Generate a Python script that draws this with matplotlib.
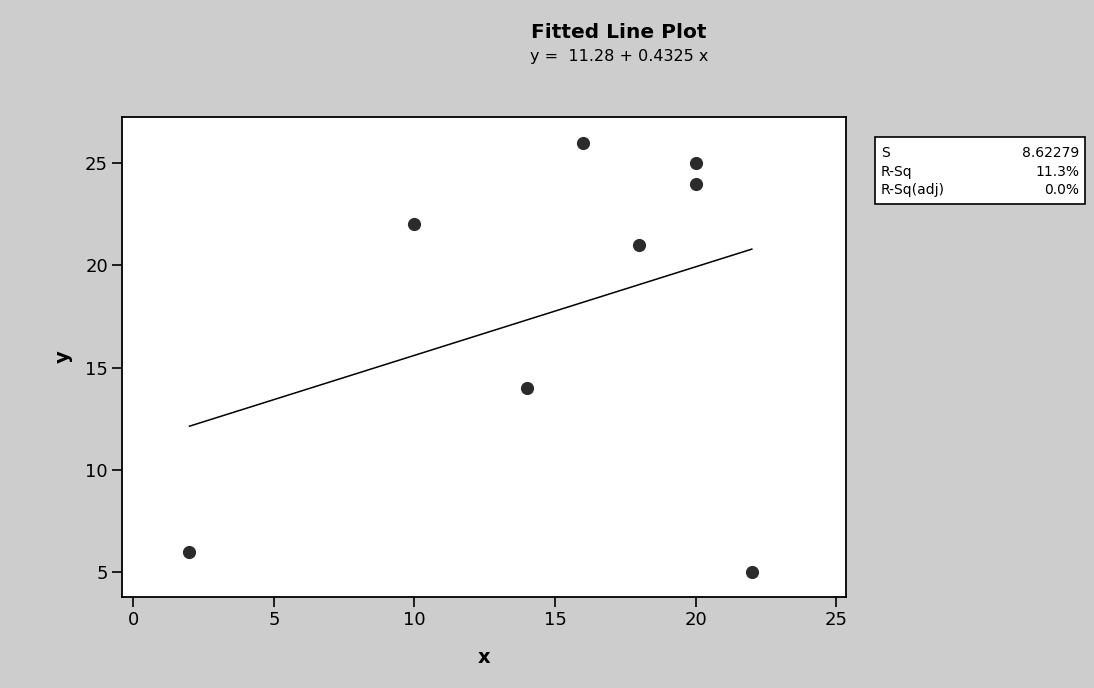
import matplotlib
matplotlib.use("Agg")
import matplotlib.pyplot as plt
import numpy as np

# Data
x_vals = [2, 10, 14, 16, 18, 20, 20, 22]
y_vals = [6, 22, 14, 26, 21, 25, 24, 5]
intercept = 11.28
slope = 0.4325
x_ticks = [0, 5, 10, 15, 20, 25]
y_ticks = [5, 10, 15, 20, 25]
stat_names = ["S", "R-Sq", "R-Sq(adj)"]
stat_values = ["8.62279", "11.3%", "0.0%"]

plt.rcParams['font.family'] = ['DejaVu Sans']

fig = plt.figure(figsize=(10.94, 6.88), dpi=100)
bg = '#cdcdcd'
fig.patch.set_facecolor(bg)

ax = fig.add_axes([122/1094, 1-597/688, (846-122)/1094, (597-117)/688])
ax.set_facecolor('white')

ax.scatter(x_vals, y_vals, s=90, color='#2b2b2b', zorder=3, linewidths=0)
xl = np.array([min(x_vals), max(x_vals)])
ax.plot(xl, intercept + slope * xl, color='black', lw=1.1, zorder=2)

ax.set_xlim(-0.4, 25.35)
ax.set_ylim(3.8, 27.25)
ax.set_xticks(x_ticks)
ax.set_yticks(y_ticks)
ax.tick_params(direction='out', length=7, width=1.2, labelsize=13, colors='black', pad=3)
for sp in ax.spines.values():
    sp.set_linewidth(1.3)

ax.set_xlabel('x', fontsize=14, fontweight='bold', labelpad=14)
ax.set_ylabel('y', fontsize=14, fontweight='bold', labelpad=9)

fig.text(619/1094, 1-33/688, 'Fitted Line Plot', ha='center', va='center',
         fontsize=14.5, fontweight='bold')
fig.text(619/1094, 1-57/688, 'y =  11.28 + 0.4325 x', ha='center', va='center',
         fontsize=11.5)

# stats box
bx0, by0, bx1, by1 = 875, 137, 1085, 204
rect = plt.Rectangle((bx0/1094, 1-by1/688), (bx1-bx0)/1094, (by1-by0)/688,
                     transform=fig.transFigure, facecolor='white', edgecolor='black',
                     lw=1.2)
fig.patches.append(rect)
rows_y = [153, 172, 190]
for name, val, ry in zip(stat_names, stat_values, rows_y):
    fig.text(881/1094, 1-ry/688, name, ha='left', va='center', fontsize=10)
    fig.text(1079/1094, 1-ry/688, val, ha='right', va='center', fontsize=10)

fig.savefig('out.png', dpi=100, facecolor=bg)
